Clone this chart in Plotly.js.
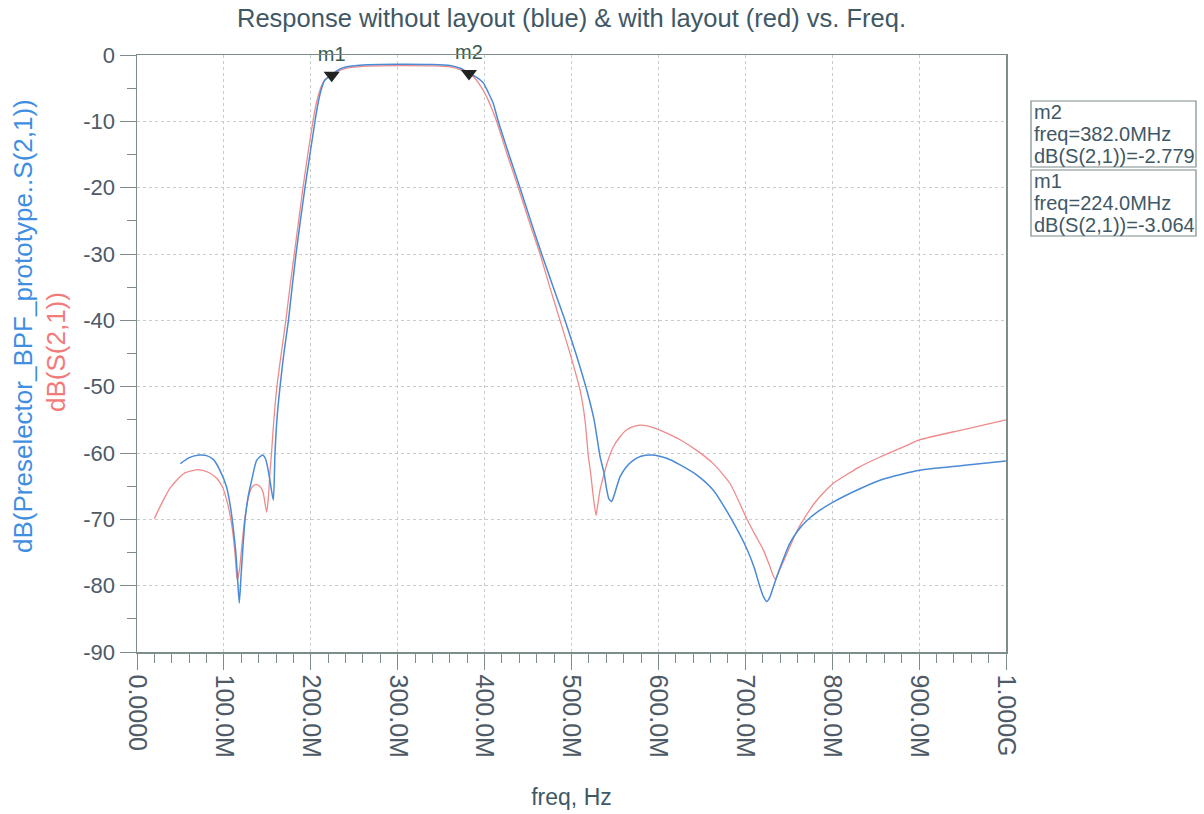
<!DOCTYPE html>
<html>
<head>
<meta charset="utf-8">
<script src="https://cdn.plot.ly/plotly-3.0.1.min.js"></script>
<style>html,body{margin:0;padding:0;background:#fff;}#chart{width:1204px;height:814px;}</style>
</head>
<body>
<div id="chart"></div>
<script>
// ---- data (frequency in MHz, response in dB) ----
const blueFreq = [50,60,72,80,88,95,103,108,111,114,116,117.7,119.5,122,124.3,128,132,137.7,144.6,148,151,154,156.9,158.8,161,164.6,169,174.3,178.5,183,188,193.3,199,204.8,208,212,216,224,232,240,260,300,340,360,372,382,390,398.5,404,410,415.7,428,440.7,453,465.7,479,492.5,505,517.5,526,532.8,537.4,540.5,543,546.2,549,555.8,563,571,580,592.3,609.5,625,645,663.2,682.4,701.6,710,716.9,721,724.6,728,732.2,740,751.4,760,770,785,801,830,855,880,901,950,1000];
const blueDB   = [-61.6,-60.7,-60.3,-60.4,-61.0,-62.5,-65.1,-68.5,-71.6,-75.5,-79.5,-82.6,-79,-74,-70.1,-66.5,-64.1,-61.1,-60.3,-60.9,-62.6,-65,-67.1,-60,-55,-50,-45,-40,-35,-30,-25,-20,-15,-10,-7.5,-5.2,-3.8,-3.0,-2.2,-1.8,-1.5,-1.4,-1.45,-1.6,-2.0,-2.7,-3.3,-4.2,-5.6,-7.3,-10,-15,-20,-25,-30,-35,-40,-45,-50.5,-55,-60.5,-63,-65.5,-66.9,-67.3,-66.4,-63.6,-62.1,-61.1,-60.5,-60.3,-60.8,-61.8,-63.4,-65.6,-69.6,-74.4,-77.2,-80.2,-81.7,-82.4,-81.8,-80.2,-77.3,-73.6,-71.8,-70.3,-68.7,-67.4,-65.5,-64.1,-63.2,-62.6,-61.9,-61.2];

const redFreq = [20,25,30.3,38,45.7,55,70.6,82,91.7,98,103.2,108,110.8,113,115.4,118,121,124.3,130,134,138.9,143,145.4,149.2,151,153,154.8,157.5,161,166,171.3,176,181,186,191,196.5,202.5,206,210,214,220,224,232,240,260,300,340,360,372,382,390,396,402,408,413.8,426,438.8,451,463.8,475,486.8,498.8,509.8,515.5,519.4,522,525,528.2,530,533,536.6,541,548,555,563.5,572,580.8,595,609.5,625,644,663.2,682.4,701.6,712,720.7,728,734.2,740,745,751.4,760,770,780,790,801,830,855,880,901,950,1000];
const redDB   = [-69.9,-68.5,-67.1,-65.3,-64.1,-63.0,-62.5,-62.9,-63.8,-65,-67.1,-70,-72.6,-75.5,-79.2,-77.5,-73.5,-69.6,-65.8,-64.9,-64.8,-65.3,-66.1,-68.9,-67,-63,-60,-55,-50,-45,-40,-35,-30,-25,-20,-15,-10,-7.5,-5.5,-4.2,-3.3,-3.064,-2.4,-2.0,-1.7,-1.6,-1.65,-1.8,-2.2,-2.779,-3.7,-4.8,-6.2,-8,-10,-15,-20,-25,-30,-35,-40,-45.2,-50.5,-55,-60.5,-63,-66.5,-69.4,-68,-65.5,-63.6,-61.5,-59.1,-57.7,-56.5,-56,-55.8,-56.2,-57.0,-58.0,-59.6,-61.6,-64.6,-69.9,-72.5,-74.6,-77,-79.0,-77.5,-76,-74.1,-71.6,-69.4,-67.5,-66.0,-64.6,-62.2,-60.6,-59.2,-58.0,-56.5,-55.0];

const markerNames = ['m1','m2'];
const markerFreq  = [224, 382];
const markerDB    = [-3.064, -2.779];
const markerFreqText = ['224.0MHz','382.0MHz'];

const xTickVals  = [0,100,200,300,400,500,600,700,800,900,1000];
const xTickText  = ['0.0000','100.0M','200.0M','300.0M','400.0M','500.0M','600.0M','700.0M','800.0M','900.0M','1.000G'];
const yTickVals  = [0,-10,-20,-30,-40,-50,-60,-70,-80,-90];
const yTickText  = ['0','-10','-20','-30','-40','-50','-60','-70','-80','-90'];

// ---- layout helpers (pixel -> paper) ----
const L = 137, R = 1006, T = 55, B = 652;
const px = x => (x - L) / (R - L);
const py = y => (B - y) / (B - T);
const FONT = 'Liberation Sans, Arial, sans-serif';
const TXT = '#3f5866';

const traces = [
  {x: redFreq, y: redDB, mode: 'lines', line: {color: '#f08a8a', width: 1.3, shape: 'spline', smoothing: 0.6}, hoverinfo: 'skip'},
  {x: blueFreq, y: blueDB, mode: 'lines', line: {color: '#4a8ad6', width: 1.5, shape: 'spline', smoothing: 0.6}, hoverinfo: 'skip'},
  {x: markerFreq, y: markerDB, mode: 'markers+text', text: markerNames, textposition: 'top center',
   textfont: {family: FONT, size: 20, color: '#3a5a4e'},
   marker: {symbol: 'triangle-down', size: 14, color: '#222222'}, cliponaxis: false, hoverinfo: 'skip'}
];

const annotations = [
  {text: '<span style="color:#3f8ee0">dB(Preselector_BPF_prototype..S(2,1))</span>', textangle: -90,
   xref: 'paper', yref: 'paper', x: px(23), y: py(326), xanchor: 'center', yanchor: 'middle',
   showarrow: false, font: {family: FONT, size: 26}},
  {text: '<span style="color:#f27a7a">dB(S(2,1))</span>', textangle: -90,
   xref: 'paper', yref: 'paper', x: px(56), y: py(352), xanchor: 'center', yanchor: 'middle',
   showarrow: false, font: {family: FONT, size: 26}}
];
const shapes = [];
// marker readout boxes (m2 on top, m1 below)
const boxTops = [170, 101];
[1, 0].forEach(i => {
  const top = boxTops[i];
  shapes.push({type: 'rect', xref: 'paper', yref: 'paper', x0: px(1031), x1: px(1196), y0: py(top), y1: py(top + 66),
               line: {color: '#7a8a8a', width: 1.2}, fillcolor: 'rgba(0,0,0,0)'});
  const lines = [markerNames[i], 'freq=' + markerFreqText[i], 'dB(S(2,1))=' + markerDB[i].toFixed(3)];
  lines.forEach((t, k) => {
    annotations.push({text: t, xref: 'paper', yref: 'paper', x: px(1032), y: py(top + 11 + k * 22),
      xanchor: 'left', yanchor: 'middle', showarrow: false, font: {family: FONT, size: 20, color: TXT}});
  });
});

const layout = {
  width: 1204, height: 814,
  margin: {l: L, r: 1204 - R, t: T, b: 814 - B},
  paper_bgcolor: '#ffffff', plot_bgcolor: '#ffffff',
  showlegend: false,
  title: {text: 'Response without layout (blue) &amp; with layout (red) vs. Freq.', x: 0.5, xref: 'paper',
          y: 1 - 18 / 814, yref: 'container', yanchor: 'middle',
          font: {family: FONT, size: 25.5, color: TXT}},
  xaxis: {
    range: [0, 1000], tickvals: xTickVals, ticktext: xTickText, tickangle: 90,
    ticks: 'outside', ticklen: 16, tickwidth: 1, tickcolor: '#7f8c8c',
    showline: true, linecolor: '#7f8c8c', linewidth: 1.5, mirror: true,
    showgrid: true, gridcolor: '#c9cccc', griddash: 'dot', gridwidth: 1, zeroline: false,
    minor: {dtick: 20, tick0: 0, ticks: 'outside', ticklen: 9, tickcolor: '#7f8c8c', showgrid: false},
    tickfont: {family: FONT, size: 25, color: '#4e5a66'},
    title: {text: 'freq, Hz', font: {family: FONT, size: 23, color: TXT}, standoff: 32},
    fixedrange: true
  },
  yaxis: {
    range: [-90, 0], tickvals: yTickVals, ticktext: yTickText,
    ticks: 'outside', ticklen: 16, tickwidth: 1, tickcolor: '#7f8c8c',
    showline: true, linecolor: '#7f8c8c', linewidth: 1.5, mirror: true,
    showgrid: true, gridcolor: '#c9cccc', griddash: 'dot', gridwidth: 1, zeroline: false,
    minor: {dtick: 5, ticks: 'outside', ticklen: 9, tickcolor: '#7f8c8c', showgrid: false},
    tickfont: {family: FONT, size: 22, color: '#4e5a66'},
    fixedrange: true
  },
  annotations: annotations,
  shapes: shapes
};

Plotly.newPlot('chart', traces, layout, {displayModeBar: false, staticPlot: true});
</script>
</body>
</html>
